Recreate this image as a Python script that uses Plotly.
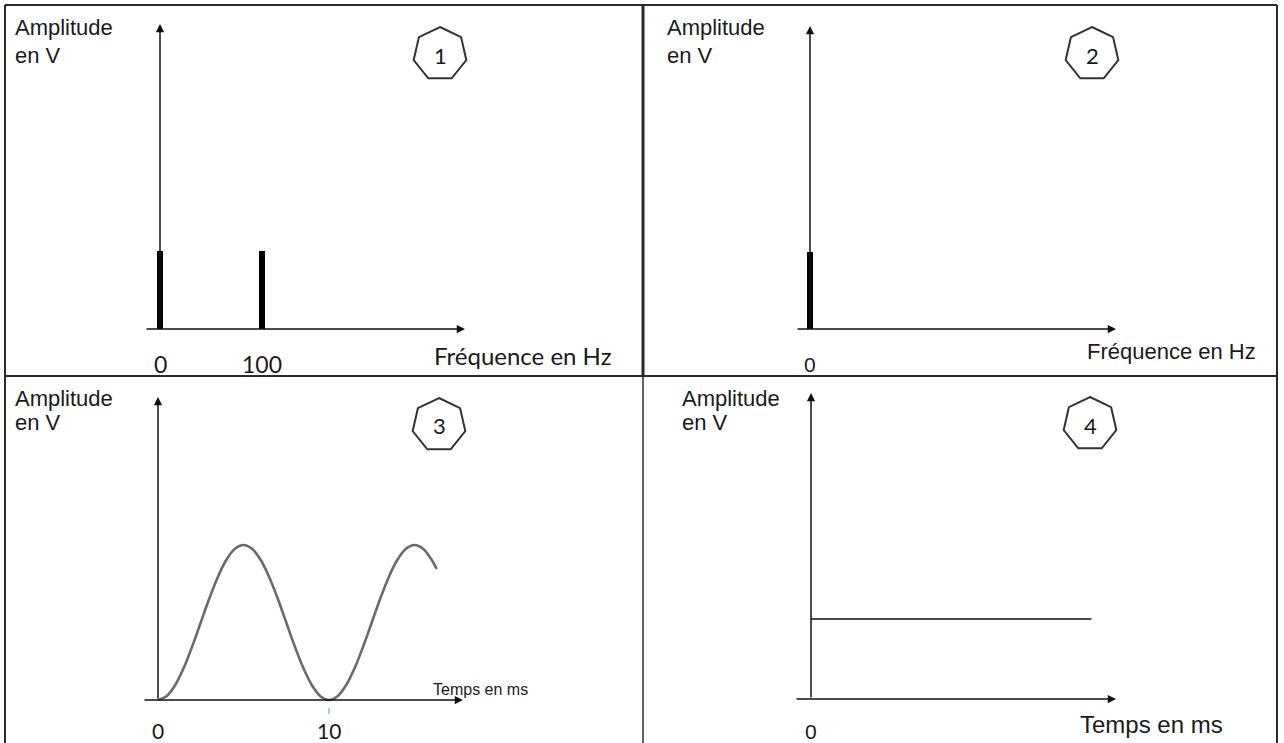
import plotly.graph_objects as go
import math

# ---------------- data ----------------
# Panel 1: spectrum (DC + 100 Hz)
freq_1 = [0, 100]            # Hz
amp_1 = [1, 1]               # V
freq_ticks_1 = [0, 100]
# Panel 2: spectrum (DC only)
freq_2 = [0]
amp_2 = [1]
freq_ticks_2 = [0]
# Panel 3: time signal (ms, V)
time_3 = [0, 0.5, 1, 1.5, 2, 2.5, 3, 3.5, 4, 4.5, 5, 5.5, 6, 6.5, 7, 7.5, 8,
          8.5, 9, 9.5, 10, 10.5, 11, 11.5, 12, 12.5, 13, 13.5, 14, 14.5, 15,
          15.5, 16, 16.3]
u_3 = [0, 0.049, 0.191, 0.412, 0.691, 1.0, 1.309, 1.588, 1.809, 1.951, 2.0,
       1.951, 1.809, 1.588, 1.309, 1.0, 0.691, 0.412, 0.191, 0.049, 0,
       0.049, 0.191, 0.412, 0.691, 1.0, 1.309, 1.588, 1.809, 1.951, 2.0,
       1.951, 1.809, 1.69]
time_ticks_3 = [0, 10]
# Panel 4: constant signal
time_4 = [0, 16.4]
u_4 = [1, 1]
time_ticks_4 = [0]
panel_numbers = ["1", "2", "3", "4"]

# ---------------- layout helpers (pixel geometry) ----------------
W, H = 1284, 743
def PX(x):
    return x / W
def PY(y):
    return 1 - y / H

ARIAL = "Liberation Sans, Arial, sans-serif"
CALIBRI = "Lato, Carlito, Calibri, sans-serif"
INK = "#111111"

# rect (L,T,R,B), data origin pixel (x0,y0), scales px/unit, axis extents px
panels = [
    dict(rect=(5, 5, 643, 376), x0=160, y0=329, sx=1.02, sy=78,
         xstart=145, xtip=465, ytip=24),
    dict(rect=(643, 5, 1277, 376), x0=810, y0=329, sx=1.02, sy=77,
         xstart=796, xtip=1116, ytip=26),
    dict(rect=(5, 376, 643, 743), x0=158, y0=700, sx=17.1, sy=77.5,
         xstart=143, xtip=463, ytip=397),
    dict(rect=(643, 376, 1277, 743), x0=811, y0=699, sx=17.1, sy=80,
         xstart=795, xtip=1116, ytip=393),
]

fig = go.Figure()
layout_axes = {}
annotations = []
shapes = []

for i, p in enumerate(panels, start=1):
    L, T, R, B = p["rect"]
    sfx = "" if i == 1 else str(i)
    layout_axes["xaxis" + sfx] = dict(
        domain=[PX(L), PX(R)],
        range=[(L - p["x0"]) / p["sx"], (R - p["x0"]) / p["sx"]],
        visible=False, fixedrange=True, anchor="y" + sfx)
    layout_axes["yaxis" + sfx] = dict(
        domain=[PY(B), PY(T)],
        range=[(p["y0"] - B) / p["sy"], (p["y0"] - T) / p["sy"]],
        visible=False, fixedrange=True, anchor="x" + sfx)
    xr, yr = "x" + sfx, "y" + sfx
    # axes as arrows (data coordinates)
    ytip = (p["y0"] - p["ytip"]) / p["sy"]
    xs = (p["xstart"] - p["x0"]) / p["sx"]
    xt = (p["xtip"] - p["x0"]) / p["sx"]
    for (hx, hy, tx, ty) in [(0, ytip, 0, 0), (xt, 0, xs, 0)]:
        annotations.append(dict(
            x=hx, y=hy, ax=tx, ay=ty, xref=xr, yref=yr, axref=xr, ayref=yr,
            text="", showarrow=True, arrowhead=2, arrowsize=1.1,
            arrowwidth=1.5, arrowcolor=INK, standoff=0, startstandoff=0))

# traces
fig.add_trace(go.Bar(x=freq_1, y=amp_1, width=6, marker=dict(color="black", line_width=0),
                     xaxis="x", yaxis="y", showlegend=False, hoverinfo="skip"))
fig.add_trace(go.Bar(x=freq_2, y=amp_2, width=6, marker=dict(color="black", line_width=0),
                     xaxis="x2", yaxis="y2", showlegend=False, hoverinfo="skip"))
fig.add_trace(go.Scatter(x=time_3, y=u_3, mode="lines",
                         line=dict(color="#6a6a6a", width=2.6, shape="spline", smoothing=1.0),
                         xaxis="x3", yaxis="y3", showlegend=False, hoverinfo="skip"))
fig.add_trace(go.Scatter(x=time_4, y=u_4, mode="lines",
                         line=dict(color=INK, width=1.5),
                         xaxis="x4", yaxis="y4", showlegend=False, hoverinfo="skip"))

# small blue tick at 10 ms in panel 3
for t in time_ticks_3[1:]:
    shapes.append(dict(type="line", xref="x3", yref="paper", x0=t, x1=t,
                       y0=PY(708), y1=PY(714), line=dict(color="#5b8fd6", width=1)))

def text(x, y, s, size, family=ARIAL, xanchor="center", yanchor="middle", xref="paper"):
    annotations.append(dict(x=x, y=y, xref=xref, yref="paper", text=s, showarrow=False,
                            xanchor=xanchor, yanchor=yanchor,
                            font=dict(family=family, size=size, color="#1a1a1a")))

# amplitude labels
for (lx, y1, y2) in [(15, 27, 55), (667, 27, 55), (15, 398, 422), (682, 398, 422)]:
    text(PX(lx - 2), PY(y1), "Amplitude", 22, xanchor="left")
    text(PX(lx - 2), PY(y2), "en V", 22, xanchor="left")

# tick labels
for t in freq_ticks_1:
    text(t, PY(364), str(t), 23, family=CALIBRI, xref="x")
for t in freq_ticks_2:
    text(t, PY(364), str(t), 21, xref="x2")
for t in time_ticks_3:
    text(t, PY(716), str(t), 21, family=CALIBRI, xref="x3", yanchor="top")
for t in time_ticks_4:
    text(t, PY(718), str(t), 21, xref="x4", yanchor="top")

# axis titles
text(PX(523), PY(355), "Fréquence en Hz", 24, family=CALIBRI)
text(PX(1171), PY(352), "Fréquence en Hz", 22)
text(PX(480), PY(689), "Temps en ms", 16)
text(PX(1151), PY(724), "Temps en ms", 24)

# heptagon badges
badges = [(440, 54), (1092, 54), (439, 425), (1090, 424)]
Rr = 27
for (cx, cy), num in zip(badges, panel_numbers):
    pts = []
    for k in range(7):
        a = math.pi / 2 - k * 2 * math.pi / 7
        pts.append((cx + Rr * math.cos(a), cy - Rr * math.sin(a)))
    path = "M " + " L ".join(f"{PX(x):.5f},{PY(y):.5f}" for x, y in pts) + " Z"
    shapes.append(dict(type="path", xref="paper", yref="paper", path=path,
                       line=dict(color="#333333", width=2)))
    text(PX(cx), PY(cy + 1), num, 22, family=CALIBRI)

# frame lines
BORDER = "#2a2a2a"
frame = [((5, 5), (1277, 5), 2), ((5, 5), (5, 743), 2), ((1277, 5), (1277, 743), 2),
         ((5, 376), (1277, 376), 2), ((643, 5), (643, 376), 3), ((643, 376), (643, 743), 1.5)]
for (x0, y0), (x1, y1), w in frame:
    shapes.append(dict(type="line", xref="paper", yref="paper",
                       x0=PX(x0), y0=PY(y0), x1=PX(x1), y1=PY(y1),
                       line=dict(color=BORDER, width=w)))

fig.update_layout(width=W, height=H, margin=dict(l=0, r=0, t=0, b=0),
                  paper_bgcolor="white", plot_bgcolor="rgba(0,0,0,0)",
                  annotations=annotations, shapes=shapes, bargap=0, **layout_axes)

fig.write_html("out.html", config={"displayModeBar": False},
               post_script="document.body.style.margin='0';document.body.style.overflow='hidden';")
